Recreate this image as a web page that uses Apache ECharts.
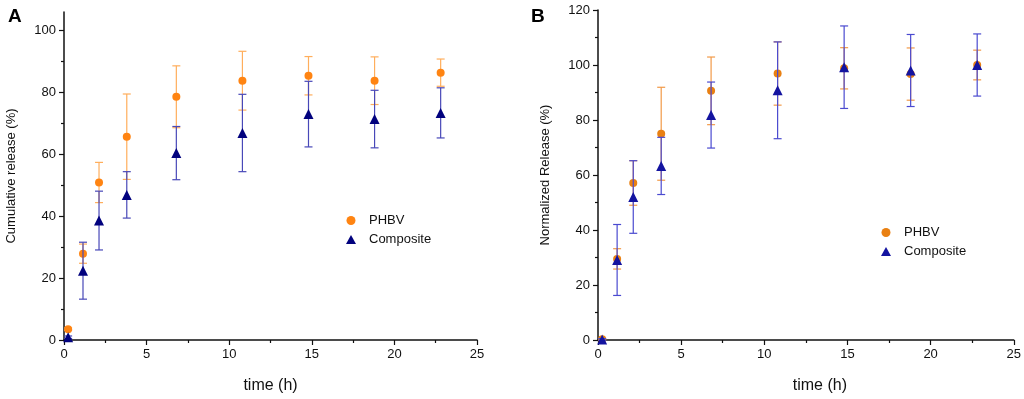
<!DOCTYPE html>
<html>
<head>
<meta charset="utf-8">
<script src="https://cdn.jsdelivr.net/npm/echarts@6/dist/echarts.min.js"></script>
<style>
  html, body { margin: 0; padding: 0; background: #fff; }
  #chart { width: 1024px; height: 399px; }
</style>
</head>
<body>
<div id="chart"></div>
<script>
// sampling times (h), same for both panels
const time = [0.25, 1.15, 2.12, 3.8, 6.8, 10.8, 14.8, 18.8, 22.8];

// panel A - cumulative release (%)
const phbvA     = [3.5, 27.9, 50.9, 65.7, 78.6, 83.8, 85.4, 83.8, 86.4];
const phbvAErr  = [0.4, 3.1, 6.5, 13.8, 10.0, 9.5, 6.2, 7.7, 4.4];
const compA     = [0.9, 22.4, 38.6, 46.9, 60.4, 66.9, 73.0, 71.4, 73.4];
const compAErr  = [0.4, 9.2, 9.5, 7.5, 8.6, 12.5, 10.6, 9.3, 8.1];

// panel B - normalized release (%)
const phbvB     = [0.3, 29.5, 57.1, 75.0, 90.6, 96.9, 98.8, 96.7, 100.0];
const phbvBErr  = [0.3, 3.7, 8.1, 16.9, 12.3, 11.5, 7.5, 9.5, 5.4];
const compB     = [0.2, 29.1, 52.0, 63.3, 81.8, 90.8, 99.2, 98.0, 100.0];
const compBErr  = [0.3, 12.9, 13.2, 10.4, 12.0, 17.6, 15.0, 13.1, 11.3];

const yTicksA = [0, 20, 40, 60, 80, 100];
const yMinorA = [10, 30, 50, 70, 90];

const FONT = 'Liberation Sans';
const ORANGE_A = '#ff8412', ORANGE_B = '#e98012';
const NAVY = '#02027e';

let chart = echarts.init(document.getElementById('chart'), null, { renderer: 'canvas' });

// points as [x, y]
function pts(ys) { return time.map((t, i) => [t, ys[i]]); }
// error bars as [x, low, high]
function errs(ys, es) { return time.map((t, i) => [t, ys[i] - es[i], ys[i] + es[i]]); }

function errBar(name, data, color, xi, yi, z) {
    return {
        name: name, type: 'custom', xAxisIndex: xi, yAxisIndex: yi, z: z,
        silent: true, clip: false,
        renderItem: function (params, api) {
            let x = api.value(0);
            let lo = api.coord([x, api.value(1)]);
            let hi = api.coord([x, api.value(2)]);
            let w = 4;
            let st = { stroke: color, lineWidth: 1.2 };
            return {
                type: 'group',
                children: [
                    { type: 'line', shape: { x1: lo[0], y1: lo[1], x2: hi[0], y2: hi[1] }, style: st },
                    { type: 'line', shape: { x1: lo[0] - w, y1: lo[1], x2: lo[0] + w, y2: lo[1] }, style: st },
                    { type: 'line', shape: { x1: hi[0] - w, y1: hi[1], x2: hi[0] + w, y2: hi[1] }, style: st }
                ]
            };
        },
        data: data
    };
}

function xAxisOf(gi, nameShift) {
    return {
        gridIndex: gi, type: 'value', min: 0, max: 25, interval: 5,
        name: 'time (h)', nameLocation: 'middle', nameGap: 38,
        nameTextStyle: { fontFamily: FONT, fontSize: 16, color: '#111', padding: [0, 0, 0, nameShift] },
        axisLine: { onZero: false, lineStyle: { color: '#111', width: 1.5 } },
        axisTick: { length: 5, lineStyle: { color: '#111', width: 1.2 } },
        minorTick: { show: true, splitNumber: 2, length: 3, lineStyle: { color: '#111', width: 1.2 } },
        axisLabel: { fontFamily: FONT, fontSize: 13, color: '#111', margin: 8 },
        splitLine: { show: false }, minorSplitLine: { show: false }
    };
}

let option = {
    animation: false,
    backgroundColor: '#fff',
    title: [
        { text: 'A', left: 3, top: 2, textStyle: { fontFamily: FONT, fontSize: 19, fontWeight: 'bold', color: '#000' } },
        { text: 'B', left: 526, top: 2, textStyle: { fontFamily: FONT, fontSize: 19, fontWeight: 'bold', color: '#000' } }
    ],
    grid: [
        { left: 64, right: 547, top: 12, bottom: 54 },
        { left: 598, right: 10, top: 10, bottom: 54 }
    ],
    legend: [
        {
            data: [{ name: 'PHBV', icon: 'circle' }, { name: 'Composite', icon: 'triangle' }],
            orient: 'vertical', left: 341, top: 209, itemWidth: 10, itemHeight: 9, itemGap: 6,
            textStyle: { fontFamily: FONT, fontSize: 13, color: '#111', padding: [0, 0, 0, 8] },
            selectedMode: false
        },
        {
            data: [{ name: 'PHBV ', icon: 'circle' }, { name: 'Composite ', icon: 'triangle' }],
            orient: 'vertical', left: 876, top: 221, itemWidth: 10, itemHeight: 9, itemGap: 6,
            textStyle: { fontFamily: FONT, fontSize: 13, color: '#111', padding: [0, 0, 0, 8] },
            selectedMode: false
        }
    ],
    xAxis: [xAxisOf(0, 0), xAxisOf(1, 28)],
    yAxis: [
        {
            gridIndex: 0, type: 'value', min: 0, max: 106,
            name: 'Cumulative release (%)', nameLocation: 'middle', nameGap: 46,
            nameTextStyle: { fontFamily: FONT, fontSize: 13, color: '#111' },
            axisLine: { show: true, lineStyle: { color: '#111', width: 1.5 } },
            axisTick: { show: true, length: 5, customValues: yTicksA, lineStyle: { color: '#111', width: 1.2 } },
            axisLabel: { fontFamily: FONT, fontSize: 13, color: '#111', customValues: yTicksA, margin: 8 },
            splitLine: { show: false }
        },
        {
            // minor ticks for panel A
            gridIndex: 0, type: 'value', min: 0, max: 106, position: 'left',
            axisLine: { show: false },
            axisTick: { show: true, length: 3, customValues: yMinorA, lineStyle: { color: '#111', width: 1.2 } },
            axisLabel: { show: false },
            splitLine: { show: false }
        },
        {
            gridIndex: 1, type: 'value', min: 0, max: 120, interval: 20,
            name: 'Normalized Release (%)', nameLocation: 'middle', nameGap: 46,
            nameTextStyle: { fontFamily: FONT, fontSize: 13, color: '#111' },
            axisLine: { show: true, lineStyle: { color: '#111', width: 1.5 } },
            axisTick: { show: true, length: 5, lineStyle: { color: '#111', width: 1.2 } },
            minorTick: { show: true, splitNumber: 2, length: 3, lineStyle: { color: '#111', width: 1.2 } },
            axisLabel: { fontFamily: FONT, fontSize: 13, color: '#111', margin: 8 },
            splitLine: { show: false }, minorSplitLine: { show: false }
        }
    ],
    series: [
        errBar('PHBV err A', errs(phbvA, phbvAErr), '#ffae5c', 0, 0, 2),
        { name: 'PHBV', type: 'scatter', xAxisIndex: 0, yAxisIndex: 0, symbol: 'circle', symbolSize: 8,
          itemStyle: { color: ORANGE_A, opacity: 1 }, data: pts(phbvA), z: 3 },
        errBar('Composite err A', errs(compA, compAErr), '#4848b8', 0, 0, 4),
        { name: 'Composite', type: 'scatter', xAxisIndex: 0, yAxisIndex: 0, symbol: 'triangle', symbolSize: 10,
          itemStyle: { color: NAVY, opacity: 1 }, data: pts(compA), z: 5 },

        errBar('PHBV err B', errs(phbvB, phbvBErr), '#f29a48', 1, 2, 2),
        { name: 'PHBV ', type: 'scatter', xAxisIndex: 1, yAxisIndex: 2, symbol: 'circle', symbolSize: 8,
          itemStyle: { color: ORANGE_B, opacity: 1 }, data: pts(phbvB), z: 3 },
        errBar('Composite err B', errs(compB, compBErr), '#4a4ad0', 1, 2, 4),
        { name: 'Composite ', type: 'scatter', xAxisIndex: 1, yAxisIndex: 2, symbol: 'triangle', symbolSize: 10,
          itemStyle: { color: '#1414a0', opacity: 1 }, data: pts(compB), z: 5 }
    ]
};

chart.setOption(option);
</script>
</body>
</html>
